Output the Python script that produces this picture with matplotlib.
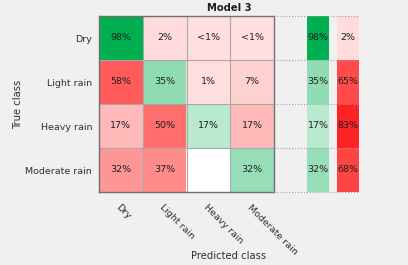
import numpy as np
import matplotlib.pyplot as plt
from matplotlib.patches import Rectangle

classes = ['Dry', 'Light rain', 'Heavy rain', 'Moderate rain']
# row-normalized percentages (true class x predicted class)
dry = [98, 2, 0.4, 0.4]
light = [58, 35, 1, 7]
heavy = [17, 50, 17, 17]
moderate = [32, 37, 0, 32]
# per-class summary: correct / incorrect
correct = [98, 35, 17, 32]
incorrect = [2, 65, 83, 68]

cm = np.array([dry, light, heavy, moderate])

GREEN = np.array([0, 176, 80]) / 255
RED = np.array([255, 0, 0]) / 255


def shade(v, base):
    if v == 0:
        return np.ones(3)
    a = min(0.12 + 0.9 * v / 100, 1.0)
    return (1 - a) * np.ones(3) + a * base


def label(v):
    if v == 0:
        return ''
    if v < 1:
        return '<1%'
    return '%d%%' % round(v)


W, H = 408, 265
fig = plt.figure(figsize=(W / 100, H / 100), dpi=100, facecolor='#f0f0f0')
plt.rcParams['font.family'] = 'DejaVu Sans'
FS = 6.8

# main confusion matrix
ax = fig.add_axes([99 / W, 1 - 192 / H, 175 / W, 176 / H])
n = len(classes)
img = np.zeros((n, n, 3))
for i in range(n):
    for j in range(n):
        img[i, j] = shade(cm[i, j], GREEN if i == j else RED)
        ax.text(j, i, label(cm[i, j]), ha='center', va='center', fontsize=FS, color='#202020')
ax.imshow(img, aspect='auto', extent=(-0.5, n - 0.5, n - 0.5, -0.5))
for k in range(1, n):
    ax.axhline(k - 0.5, color='#a8a8a8', lw=0.8)
    ax.axvline(k - 0.5, color='#a8a8a8', lw=0.8)
for s in ax.spines.values():
    s.set_color('#707070')
    s.set_linewidth(1.0)
ax.set_xticks(range(n))
ax.set_yticks(range(n))
ax.set_xticklabels(classes, rotation=-45, ha='left', va='top', rotation_mode='anchor', fontsize=FS, color='#303030')
ax.set_yticklabels(classes, fontsize=FS, color='#303030')
ax.tick_params(axis='x', length=0, pad=8)
ax.tick_params(axis='y', length=0, pad=5)

# summary columns on the right
ax2 = fig.add_axes([274 / W, 1 - 192 / H, 85 / W, 176 / H])
ax2.set_xlim(0, 85)
ax2.set_ylim(n, 0)
ax2.axis('off')
for i in range(n):
    ax2.add_patch(Rectangle((33, i), 22, 1, color=shade(correct[i], GREEN), lw=0))
    ax2.add_patch(Rectangle((63, i), 22, 1, color=shade(incorrect[i], RED), lw=0))
    ax2.text(44, i + 0.5, label(correct[i]), ha='center', va='center', fontsize=FS, color='#202020')
    ax2.text(74, i + 0.5, label(incorrect[i]), ha='center', va='center', fontsize=FS, color='#202020')
for k in range(n + 1):
    ax2.plot([0, 85], [k, k], color='#a0a0a0', lw=0.8, ls=':', clip_on=False)

fig.text(229 / W, 1 - 8 / H, 'Model 3', ha='center', va='center', fontsize=7.2, fontweight='bold', color='#202020')
fig.text(229 / W, 1 - 256 / H, 'Predicted class', ha='center', va='center', fontsize=7.2, color='#303030')
fig.text(18 / W, 1 - 104 / H, 'True class', ha='center', va='center', rotation=90, fontsize=7.2, color='#303030')

fig.savefig('out.png', dpi=100, facecolor=fig.get_facecolor())
